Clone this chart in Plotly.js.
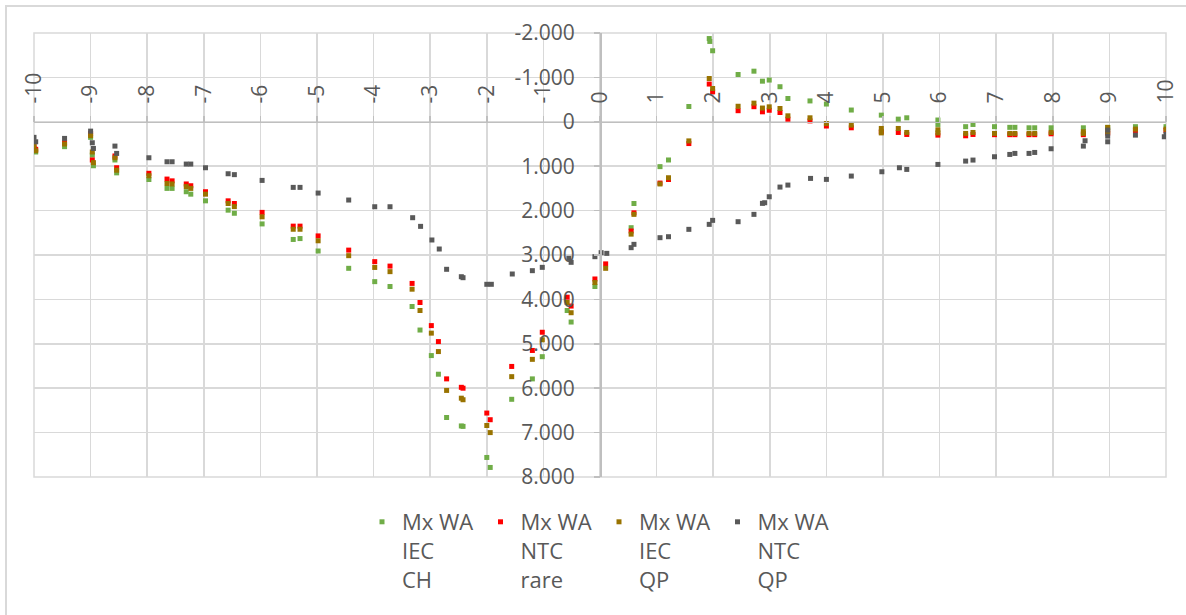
<!DOCTYPE html>
<html>
<head>
<meta charset="utf-8">
<script src="https://cdn.plot.ly/plotly-3.0.1.min.js"></script>
<style>
  html, body { margin: 0; padding: 0; background: #ffffff; }
  #chart { width: 1186px; height: 615px; }
</style>
</head>
<body>
<div id="chart"></div>
<script>
// Bending moment Mx (WA) along the section, four load cases.

const seriesNames = ["Mx WA<br>IEC<br>CH", "Mx WA<br>NTC<br>rare", "Mx WA<br>IEC<br>QP", "Mx WA<br>NTC<br>QP"];
const seriesColors = ["#70ad47", "#ff0000", "#997300", "#595959"];

// IEC CH
const xIecCh = [-10, -9.97, -9.46, -9.0, -8.97, -8.95, -8.57, -8.54, -7.97, -7.65, -7.56, -7.31, -7.23, -6.97, -6.57, -6.46,
  -5.97, -5.42, -5.30, -4.98, -4.44, -3.98, -3.71, -3.32, -3.18, -2.98, -2.855, -2.71, -2.45, -2.42, -2.0, -1.94,
  -1.56, -1.195, -1.02, -0.58, -0.51, -0.09, 0.55, 0.6, 1.06, 1.21, 1.57, 1.93, 1.94, 1.99, 2.44, 2.72, 2.87, 2.99,
  3.18, 3.32, 3.71, 4.0, 4.44, 4.97, 5.27, 5.42, 5.97, 5.97, 6.46, 6.59, 6.97, 7.24, 7.33, 7.58, 7.68, 7.97, 8.54,
  8.97, 9.46, 10.0];
const yIecCh = [600, 680, 560, 350, 750, 990, 860, 1150, 1300, 1500, 1500, 1575, 1630, 1780, 1990, 2060,
  2300, 2650, 2630, 2910, 3300, 3600, 3710, 4160, 4690, 5265, 5685, 6660, 6850, 6860, 7560, 7785,
  6250, 5790, 5290, 4250, 4510, 3710, 2385, 1840, 1010, 860, -345, -1875, -1810, -1600, -1065, -1140, -915, -940,
  -790, -525, -470, -400, -265, -150, -60, -90, -40, 60, 110, 60, 110, 125, 125, 135, 135, 135, 135,
  125, 110, 110];

// NTC rare
const xNtcRare = [-10, -9.97, -9.46, -9.0, -8.97, -8.57, -8.54, -7.97, -7.65, -7.56, -7.31, -7.23, -6.97, -6.57, -6.46,
  -5.97, -5.42, -5.30, -4.98, -4.44, -3.98, -3.71, -3.32, -3.18, -2.98, -2.855, -2.71, -2.45, -2.42, -2.0, -1.94,
  -1.56, -1.195, -1.02, -0.58, -0.51, -0.09, 0.10, 0.55, 0.6, 1.06, 1.21, 1.57, 1.93, 1.99, 2.44, 2.72, 2.87, 2.99,
  3.18, 3.32, 3.71, 4.0, 4.44, 4.97, 5.27, 5.42, 5.97, 6.46, 6.59, 6.97, 7.24, 7.33, 7.58, 7.68, 7.97, 8.54,
  8.97, 9.46, 10.0];
const yNtcRare = [560, 620, 470, 260, 860, 770, 1035, 1160, 1290, 1330, 1400, 1440, 1575, 1780, 1840,
  2040, 2350, 2350, 2570, 2890, 3150, 3250, 3640, 4070, 4590, 4950, 5790, 5980, 6000, 6560, 6710,
  5510, 5150, 4740, 3950, 4150, 3540, 3200, 2460, 2050, 1380, 1300, 490, -850, -675, -250, -340, -225, -260,
  -210, -60, -20, 95, 135, 225, 240, 285, 300, 315, 285, 290, 290, 290, 290, 290, 270, 290,
  255, 195, 195];

// IEC QP
const xIecQp = [-10, -9.97, -9.46, -9.0, -8.97, -8.95, -8.57, -8.54, -7.97, -7.65, -7.56, -7.31, -7.23, -6.97, -6.57, -6.46,
  -5.97, -5.42, -5.30, -4.98, -4.44, -3.98, -3.71, -3.32, -3.18, -2.98, -2.855, -2.71, -2.45, -2.42, -2.0, -1.94,
  -1.56, -1.195, -1.02, -0.58, -0.51, -0.09, 0.10, 0.55, 0.6, 1.06, 1.21, 1.57, 1.93, 1.99, 2.44, 2.72, 2.87, 2.99,
  3.18, 3.32, 3.71, 4.0, 4.44, 4.97, 4.97, 5.27, 5.42, 5.97, 5.97, 6.46, 6.59, 6.97, 7.24, 7.33, 7.58, 7.68, 7.97,
  8.54, 8.54, 8.97, 8.97, 9.46, 10.0];
const yIecQp = [540, 650, 500, 310, 680, 920, 810, 1090, 1215, 1390, 1400, 1460, 1500, 1630, 1840, 1910,
  2140, 2420, 2420, 2680, 3015, 3280, 3375, 3770, 4250, 4760, 5175, 6050, 6225, 6260, 6840, 7000,
  5740, 5350, 4910, 4070, 4300, 3620, 3300, 2530, 2085, 1400, 1260, 430, -975, -750, -350, -420, -310, -337,
  -300, -135, -90, 40, 75, 150, 250, 150, 240, 180, 250, 262, 240, 262, 262, 262, 262, 262, 240,
  225, 262, 127, 225, 165, 165];

// NTC QP
const xNtcQp = [-10, -9.97, -9.46, -9.0, -8.97, -8.95, -8.57, -8.54, -7.97, -7.65, -7.56, -7.31, -7.23, -6.97, -6.57, -6.46,
  -5.97, -5.42, -5.30, -4.98, -4.44, -3.98, -3.71, -3.31, -3.17, -2.97, -2.84, -2.71, -2.45, -2.42, -2.0, -1.92,
  -1.55, -1.195, -1.02, -0.55, -0.51, -0.09, 0.02, 0.12, 0.55, 0.6, 1.06, 1.21, 1.57, 1.93, 1.99, 2.44, 2.72, 2.87,
  2.91, 2.99, 3.18, 3.32, 3.72, 4.0, 4.44, 4.98, 5.29, 5.42, 5.97, 6.46, 6.59, 6.97, 7.24, 7.33, 7.58, 7.68, 7.97,
  8.54, 8.57, 8.97, 8.97, 8.97, 9.46, 9.97, 10.0];
const yNtcQp = [350, 450, 374, 210, 472, 600, 547, 712, 810, 900, 900, 952, 952, 1035, 1170, 1190,
  1320, 1477, 1477, 1605, 1762, 1913, 1913, 2160, 2355, 2662, 2865, 3322, 3489, 3511, 3660, 3660,
  3428, 3353, 3278, 3075, 3165, 3038, 2948, 2963, 2835, 2760, 2610, 2588, 2422, 2310, 2220, 2250, 2085, 1837,
  1823, 1688, 1470, 1425, 1275, 1297, 1222, 1125, 1035, 1072, 960, 885, 862, 787, 735, 712, 712, 690, 607,
  547, 427, 450, 322, 187, 300, 337, 283];

const xTickVals = [-10, -9, -8, -7, -6, -5, -4, -3, -2, -1, 0, 1, 2, 3, 4, 5, 6, 7, 8, 9, 10];
const xTickText = ["-10", "-9", "-8", "-7", "-6", "-5", "-4", "-3", "-2", "-1", "0", "1", "2", "3", "4", "5", "6", "7", "8", "9", "10"];
const yTickVals = [-2000, -1000, 0, 1000, 2000, 3000, 4000, 5000, 6000, 7000, 8000];
const yTickText = ["-2.000", "-1.000", "0", "1.000", "2.000", "3.000", "4.000", "5.000", "6.000", "7.000", "8.000"];

const xs = [xIecCh, xNtcRare, xIecQp, xNtcQp];
const ys = [yIecCh, yNtcRare, yIecQp, yNtcQp];

const traces = seriesNames.map((name, i) => ({
  type: "scatter",
  mode: "markers",
  name: name,
  x: xs[i],
  y: ys[i],
  marker: { symbol: "square", size: 5, color: seriesColors[i] },
  hoverinfo: "x+y"
}));

const M = { l: 34, r: 20, t: 33, b: 138 };
const plotW = 1186 - M.l - M.r;
const plotH = 615 - M.t - M.b;
const tickFont = { family: "Open Sans, sans-serif", size: 21, color: "#595959" };

const layout = {
  width: 1186,
  height: 615,
  margin: { l: M.l, r: M.r, t: M.t, b: M.b, autoexpand: false },
  paper_bgcolor: "#ffffff",
  plot_bgcolor: "#ffffff",
  showlegend: true,
  xaxis: {
    range: [-10, 10],
    tickvals: xTickVals,
    ticktext: xTickText,
    tickangle: -90,
    side: "top",
    anchor: "free",
    position: 0.8,
    showgrid: true,
    gridcolor: "#d9d9d9",
    gridwidth: 1.5,
    zeroline: false,
    showline: true,
    linecolor: "#bfbfbf",
    linewidth: 1.5,
    ticks: "outside",
    ticklen: 6,
    tickwidth: 1.5,
    tickcolor: "#bfbfbf",
    ticklabelstandoff: 8,
    tickfont: tickFont
  },
  yaxis: {
    range: [8000, -2000],
    tickvals: yTickVals,
    ticktext: yTickText,
    anchor: "free",
    position: 0.5,
    side: "left",
    showgrid: true,
    gridcolor: "#d9d9d9",
    gridwidth: 1.5,
    zeroline: false,
    showline: true,
    linecolor: "#bfbfbf",
    linewidth: 1.5,
    ticks: "outside",
    ticklen: 6,
    tickwidth: 1.5,
    tickcolor: "#bfbfbf",
    ticklabelstandoff: 15,
    tickfont: tickFont
  },
  legend: {
    orientation: "h",
    x: (362 - M.l) / plotW,
    xanchor: "left",
    y: (477 - 501) / plotH,
    yanchor: "top",
    valign: "top",
    entrywidth: 73.5,
    font: { family: "Open Sans, sans-serif", size: 22, color: "#595959" },
    bgcolor: "rgba(0,0,0,0)"
  },
  shapes: [
    // plot frame
    { type: "rect", xref: "paper", yref: "paper", x0: 0, x1: 1, y0: 0, y1: 1,
      line: { color: "#d9d9d9", width: 1.5 }, layer: "below" },
    // chart area border
    { type: "rect", xref: "paper", yref: "paper",
      x0: (6 - M.l) / plotW, x1: 1.2, y0: -0.5, y1: (477 - 6) / plotH,
      line: { color: "#d9d9d9", width: 2 } }
  ]
};

Plotly.newPlot("chart", traces, layout, { staticPlot: true, displayModeBar: false });
</script>
</body>
</html>
